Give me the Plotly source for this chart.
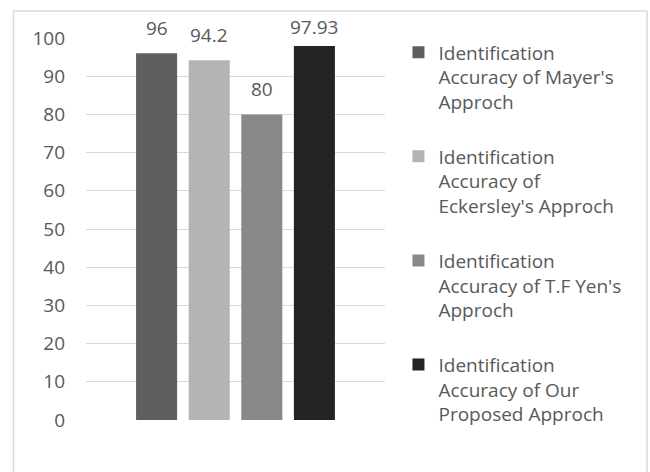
import plotly.graph_objects as go

series_names = [
    "Identification<br>Accuracy of Mayer's<br>Approch",
    "Identification<br>Accuracy of<br>Eckersley's Approch",
    "Identification<br>Accuracy of T.F Yen's<br>Approch",
    "Identification<br>Accuracy of Our<br>Proposed Approch",
]
values = [96, 94.2, 80, 97.93]
value_labels = ["96", "94.2", "80", "97.93"]
colors = ["#5f5f5f", "#b4b4b4", "#898989", "#232323"]
bar_index = [0, 1, 2, 3]
y_ticks = [0, 10, 20, 30, 40, 50, 60, 70, 80, 90, 100]

FONT = "Open Sans"
TXT = "#595959"
FS = 19
LABEL_CAP = 96.1  # data labels are kept inside the chart area, as in the original

fig = go.Figure()
for i, (n, v, c) in enumerate(zip(series_names, values, colors)):
    fig.add_trace(go.Bar(
        x=[bar_index[i]], y=[v], name=n, width=0.78,
        marker=dict(color=c, line=dict(width=0)),
        legendgroup=f"g{i}", hoverinfo="skip",
    ))

annotations = []
for i, (v, lab) in enumerate(zip(values, value_labels)):
    annotations.append(dict(
        x=bar_index[i], y=min(v, LABEL_CAP), xref="x", yref="y", text=lab, showarrow=False,
        yanchor="middle", yshift=25.5, font=dict(family=FONT, size=FS, color=TXT),
    ))

L, R, T, B = 86, 265, 37.5, 52
pw = 650 - L - R
ph = 472 - T - B

fig.update_layout(
    width=650, height=472,
    margin=dict(l=L, r=R, t=T, b=B, pad=0),
    paper_bgcolor="white", plot_bgcolor="white",
    barmode="overlay",
    font=dict(family=FONT, size=FS, color=TXT),
    showlegend=True,
    annotations=annotations,
    legend=dict(
        x=1.045, xanchor="left", y=1.012, yanchor="top",
        traceorder="grouped", tracegroupgap=27, valign="top",
        font=dict(family=FONT, size=FS, color=TXT),
        itemwidth=30, bgcolor="rgba(0,0,0,0)", maxheight=472,
    ),
    xaxis=dict(range=[-1.342, 4.342], showticklabels=False, showgrid=False,
               zeroline=False, showline=False, ticks=""),
    yaxis=dict(range=[0, 100], tickvals=y_ticks, showgrid=True, gridcolor="#d9d9d9",
               gridwidth=1, zeroline=False, showline=False, ticks="",
               ticklabelstandoff=20, tickfont=dict(family=FONT, size=FS, color=TXT)),
    shapes=[dict(type="rect", xref="paper", yref="paper",
                 x0=(13.5 - L) / pw, x1=(647 - L) / pw,
                 y0=(472 - B - 490) / ph, y1=(472 - B - 10.5) / ph,
                 line=dict(color="#d9d9d9", width=1.5), fillcolor="rgba(0,0,0,0)",
                 layer="below")],
)

fig.write_html("out.html")
